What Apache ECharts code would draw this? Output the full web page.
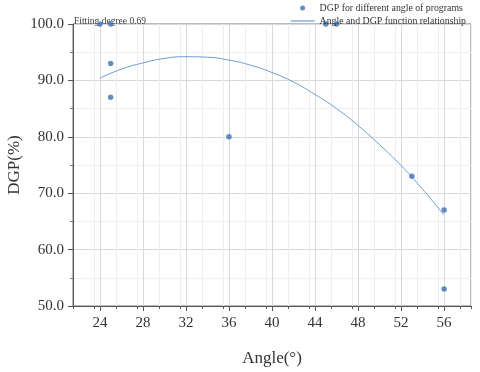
<!DOCTYPE html>
<html><head><meta charset="utf-8">
<script src="https://cdn.jsdelivr.net/npm/echarts@6/dist/echarts.min.js"></script>
<style>html,body{margin:0;padding:0;background:#fff}#c{width:480px;height:372px}</style>
</head><body><div id="c"></div>
<script>
var pointAngles = [24, 25, 25, 25, 36, 45, 46, 53, 56, 56];
var pointDGP    = [100, 100, 93, 87, 80, 100, 100, 73, 67, 53];
var curveAngles = [24, 26, 28, 30, 32, 34, 36, 38, 40, 42, 44, 46, 48, 50, 52, 54, 56];
var curveDGP    = [90.4, 92.0, 93.1, 93.9, 94.2, 94.1, 93.6, 92.7, 91.4, 89.7, 87.5, 85.0, 82.0, 78.6, 74.9, 70.7, 66.1];
var xTickLabels = [24, 28, 32, 36, 40, 44, 48, 52, 56];
var seriesNames = ['DGP for different angle of programs', 'Angle and DGP function relationship'];
var fitText = 'Fitting degree 0.69';

var F = '"Liberation Serif", "DejaVu Serif", serif';
var pts = pointAngles.map(function(a, i){ return [a, pointDGP[i]]; });
var crv = curveAngles.map(function(a, i){ return [a, curveDGP[i]]; });

var chart = echarts.init(document.getElementById('c'));
chart.setOption({
  animation: false,
  grid: {left: 73, right: 9, top: 24, bottom: 66, show: true, borderColor: '#777', borderWidth: 1,
         containLabel: false, outerBoundsMode: 'none'},
  legend: {
    right: 9, top: -2, orient: 'vertical', itemGap: 3, itemWidth: 24, itemHeight: 5,
    textStyle: {fontFamily: F, fontSize: 9.8, color: '#333'},
    data: [
      {name: seriesNames[0], icon: 'circle', itemStyle: {color: '#3f72b4'}},
      {name: seriesNames[1], icon: 'path://M0,0H24V1.2H0Z', itemStyle: {color: '#6d9bd1'}}
    ]
  },
  graphic: [{type: 'text', left: 74, top: 16, style: {text: fitText, font: '9.5px ' + F, fill: '#444'}}],
  xAxis: [{
    type: 'value', min: 21.5, max: 58.5, interval: 2,
    name: 'Angle(°)', nameLocation: 'middle', nameGap: 44, nameMoveOverlap: false,
    nameTextStyle: {fontFamily: F, fontSize: 17, color: '#333'},
    axisLine: {show: true, onZero: false, lineStyle: {color: '#555'}},
    axisTick: {show: true, length: 3, lineStyle: {color: '#555'}},
    axisLabel: {show: false},
    splitLine: {show: true, lineStyle: {color: '#eeeeee'}}
  }, {
    type: 'value', min: 21.5, max: 58.5, interval: 4, position: 'bottom',
    axisLine: {show: false},
    axisTick: {show: true, length: 5, lineStyle: {color: '#555'}, customValues: xTickLabels},
    axisLabel: {show: true, fontFamily: F, fontSize: 15, color: '#333', margin: 10, customValues: xTickLabels},
    splitLine: {show: true, lineStyle: {color: '#d8d8d8'}}
  }],
  yAxis: {
    type: 'value', min: 50, max: 100, interval: 10,
    name: 'DGP(%)', nameLocation: 'middle', nameGap: 50, nameMoveOverlap: false,
    nameTextStyle: {fontFamily: F, fontSize: 17, color: '#333'},
    axisLine: {show: true, lineStyle: {color: '#555'}},
    axisTick: {show: true, length: 5, lineStyle: {color: '#555'}},
    minorTick: {show: true, splitNumber: 2, length: 3, lineStyle: {color: '#777'}},
    axisLabel: {fontFamily: F, fontSize: 15, color: '#333', margin: 9,
      formatter: function(v){ return v.toFixed(1); }},
    splitLine: {show: true, lineStyle: {color: '#d8d8d8'}},
    minorSplitLine: {show: true, lineStyle: {color: '#f0f0f0'}}
  },
  series: [{
    name: seriesNames[0], type: 'scatter', data: pts, symbolSize: 5.5,
    itemStyle: {color: '#3f72b4'}, z: 3
  }, {
    name: seriesNames[1], type: 'line', data: crv, smooth: true, symbol: 'none',
    lineStyle: {color: '#6d9bd1', width: 1}, itemStyle: {color: '#6d9bd1'}, z: 2
  }]
});
</script></body></html>
